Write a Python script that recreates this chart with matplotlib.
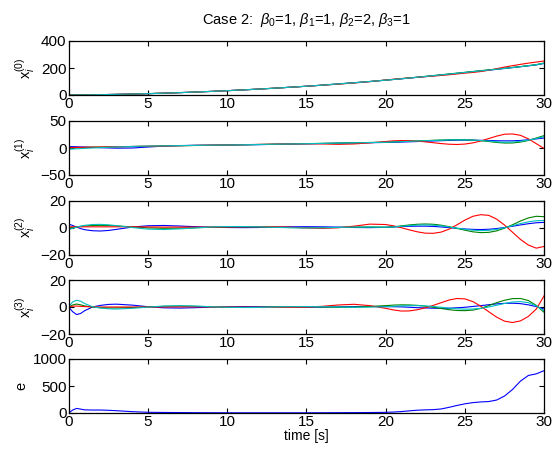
import matplotlib
matplotlib.use("Agg")
import matplotlib.pyplot as plt

plt.rcParams['font.family'] = ['Liberation Sans', 'DejaVu Sans']
plt.rcParams['font.size'] = 10
plt.rcParams['mathtext.fontset'] = 'custom'
plt.rcParams['mathtext.rm'] = 'Liberation Sans'
plt.rcParams['mathtext.it'] = 'Liberation Sans:italic'
plt.rcParams['mathtext.bf'] = 'Liberation Sans:bold'

# sample times [s]
T = [0, 0.25, 0.5, 0.75, 1, 1.5, 2, 2.5, 3,
     4, 5, 6, 7, 8, 9, 10, 11, 12, 13, 14, 15, 16, 17, 18, 19, 20,
     20.5, 21, 21.5, 22, 22.5, 23, 23.5, 24, 24.5, 25,
     25.5, 26, 26.5, 27, 27.5, 28, 28.5, 29, 29.5, 30]

# x_i^(0) for agents 1..4
X0_BLUE = [0.5, 0.8, 1.1, 1.4, 1.6, 2.2, 2.7, 3.6, 4.6,
           7.0, 9.8, 13.5, 17.5, 22, 26.7, 32, 37.7, 44, 50.6, 57.7, 65, 73, 82, 90.7, 100, 110,
           115, 120, 125.5, 131, 136.5, 142, 148, 154, 160, 166,
           172, 178, 184, 190, 196.5, 203, 209.5, 216, 223, 234]
X0_GREEN = [0, 0.1, 0.3, 0.5, 0.8, 1.5, 2.3, 3.4, 4.6,
            7.2, 10, 13.7, 17.6, 22, 26.7, 32, 37.7, 44, 50.6, 57.7, 65, 73, 82, 90.7, 100, 110.5,
            115.5, 121, 126.5, 132, 138, 144, 150, 156, 162, 168,
            174.5, 180.5, 186.5, 192, 198, 204, 210.5, 217.5, 225, 237]
X0_RED = [0.3, 0.5, 0.8, 1.0, 1.3, 1.9, 2.7, 3.7, 4.8,
          7.3, 10, 13.7, 17.6, 22, 26.7, 32, 37.7, 44, 50.6, 57.7, 65, 72.5, 80.5, 89, 99, 111,
          117, 122, 127, 131, 135.5, 140, 145, 150, 156, 162,
          167, 174, 183, 195, 207, 217, 227, 236, 244, 252]
X0_CYAN = [-0.2, 0, 0.2, 0.5, 0.8, 1.6, 2.5, 3.5, 4.6,
           7.2, 10, 13.7, 17.6, 22, 26.7, 32, 37.7, 44, 50.6, 57.7, 65, 73, 82, 90.7, 100, 110,
           115, 120.5, 126, 131.5, 137, 143, 149, 155, 161, 167,
           173, 179, 185, 191, 197.5, 203.5, 210, 217, 224.5, 236]

# x_i^(1)
X1_BLUE = [2.5, 2.5, 2.3, 2.0, 1.8, 1.2, 0.6, 0.1, -0.3,
           0, 1.8, 3.5, 4.5, 5, 5.2, 5.5, 5.8, 6.2, 6.8, 7.3, 7.8, 8.3, 8.8, 9.3, 9.8, 10.3,
           10.6, 11, 11.5, 12, 12.5, 13, 13.6, 14, 14.4, 14.6,
           14.5, 14.2, 13.8, 13.4, 13.2, 13.3, 14, 15.2, 16.8, 18.5]
X1_GREEN = [0, 0.2, 0.5, 0.8, 1, 1.5, 1.8, 2, 2.3,
            2.8, 3.3, 3.8, 4.2, 4.7, 5.1, 5.5, 6, 6.5, 7, 7.5, 8, 8.6, 9.1, 9.7, 10.2, 10.8,
            11.4, 12, 12.6, 13.2, 13.7, 14.2, 14.7, 15.2, 15.5, 15.3,
            14.6, 13.5, 12, 10.3, 9.2, 9.3, 11, 14, 18.5, 23]
X1_RED = [1, 1, 1.1, 1.2, 1.3, 1.5, 1.8, 2, 2.3,
          2.8, 3.3, 3.8, 4.3, 4.8, 5.3, 5.7, 6.2, 6.7, 7.2, 7.6, 7.8, 7.5, 6.8, 7.5, 9.5, 12,
          13.3, 13.8, 13.6, 12.8, 11.4, 9.8, 8.2, 7, 6.5, 7.3,
          9.5, 13, 17.5, 22, 25.5, 26, 23.5, 17, 8, -1]
X1_CYAN = [-2, -1.8, -1.5, -1.1, -0.7, 0, 0.7, 1.3, 1.9,
           2.8, 3.5, 4, 4.4, 4.8, 5.2, 5.6, 6, 6.5, 7, 7.5, 8, 8.5, 9, 9.6, 10.1, 10.6,
           11.2, 11.8, 12.4, 13, 13.5, 14, 14.5, 15, 15.2, 15,
           14.6, 13.8, 12.8, 11.5, 10.6, 11, 12.5, 14.5, 17.5, 21]

# x_i^(2)
X2_BLUE = [2.5, 1.5, 0.3, -0.8, -1.6, -2.4, -2.6, -2.2, -1.4,
           0.3, 1.3, 1.5, 1.1, 0.6, 0.2, 0, -0.1, 0, 0.3, 0.5, 0.6, 0.5, 0.3, 0, -0.1, 0.1,
           0.4, 0.7, 0.9, 1, 1, 0.8, 0.4, -0.1, -0.6, -1.1,
           -1.4, -1.5, -1.3, -0.8, 0, 0.9, 1.9, 2.8, 3.5, 3.8]
X2_GREEN = [-0.5, 0, 0.4, 0.8, 1.1, 1.5, 1.6, 1.5, 1.2,
            0.4, -0.3, -0.6, -0.5, -0.2, 0.2, 0.4, 0.5, 0.4, 0.2, 0, -0.2, -0.2, 0, 0.3, 0.4, 0.2,
            0.5, 1.2, 1.9, 2.4, 2.6, 2.4, 1.7, 0.6, -0.7, -2,
            -3.2, -3.8, -3.6, -2.5, -0.5, 2, 4.8, 7.1, 8.3, 8]
X2_RED = [0.5, 0.5, 0.5, 0.5, 0.5, 0.5, 0.5, 0.5, 0.5,
          0.5, 0.4, 0.3, 0.3, 0.3, 0.3, 0.4, 0.5, 0.6, 0.5, 0.2, -0.3, -0.6, -0.2, 1, 2.5, 2.2,
          1.2, -0.2, -1.8, -3.2, -4.2, -4.3, -3.4, -1.2, 2, 5.5,
          8.3, 9.5, 9, 6.2, 1.8, -3.5, -8.8, -13, -15.3, -14]
X2_CYAN = [-1.5, -0.6, 0.3, 1, 1.6, 2.2, 2.3, 2, 1.4,
           0, -1.2, -1.5, -1, -0.3, 0.4, 0.7, 0.7, 0.5, 0.1, -0.2, -0.3, -0.2, 0.1, 0.3, 0.3, 0.2,
           0.4, 0.9, 1.4, 1.8, 1.9, 1.7, 1.2, 0.4, -0.5, -1.4,
           -2, -2.3, -2.1, -1.4, -0.2, 1.3, 2.9, 4.2, 5, 5.2]

# x_i^(3)
X3_BLUE = [0, -3.5, -5.6, -4.8, -2.8, 0, 1.2, 1.9, 2.1,
           1.4, 0.2, -0.6, -0.8, -0.5, -0.1, 0.2, 0.3, 0.2, 0, -0.2, -0.2, -0.1, 0.1, 0.3, 0.4, 0.3,
           0.2, 0.1, -0.2, -0.5, -0.7, -0.9, -1, -0.9, -0.6, -0.2,
           0.4, 1, 1.7, 2.3, 2.7, 2.8, 2.5, 1.6, 0.3, -1.5]
X3_GREEN = [0, 1.5, 2.2, 1.6, 0.8, -0.1, -0.5, -0.7, -0.7,
            -0.4, 0, 0.5, 0.7, 0.5, 0.1, -0.2, -0.3, -0.2, 0, 0.2, 0.2, 0, -0.2, -0.1, 0.4, 1,
            1.4, 1.6, 1.5, 1.2, 0.6, -0.2, -1.1, -2, -2.6, -2.7,
            -2.3, -1, 1, 3.2, 5, 6.2, 6.3, 4.8, 1.2, -4]
X3_RED = [0.5, 0.6, 0.7, 0.5, 0.3, 0.1, 0, 0, 0,
          0, 0, 0, 0.1, 0.1, 0.1, 0, -0.1, -0.2, -0.3, -0.3, -0.1, 0.5, 1.5, 2, 1, -1,
          -2.2, -3, -2.9, -2, -0.6, 1.2, 3.2, 5.2, 6.3, 6,
          4, 0.6, -3.5, -7.5, -10.5, -11.5, -10.3, -7, -1.5, 8.4]
X3_CYAN = [0, 3.8, 5, 4.3, 2.6, 0.2, -0.8, -1.3, -1.5,
           -1, -0.1, 0.7, 1, 0.7, 0.2, -0.2, -0.4, -0.3, 0, 0.2, 0.3, 0.2, 0, -0.2, -0.1, 0.2,
           0.5, 0.8, 1, 1, 0.8, 0.4, -0.2, -0.8, -1.3, -1.6,
           -1.5, -1, 0, 1.3, 2.6, 3.7, 4, 3.2, 0.8, -2.8]

# error norm e
E = [0, 55, 85, 72, 58, 55, 55, 50, 43,
     25, 13, 10, 8, 6, 5, 4, 4, 4, 4, 4, 4, 5, 6, 7, 9, 12,
     18, 27, 40, 52, 58, 62, 75, 105, 140, 170,
     192, 205, 212, 240, 315, 435, 590, 695, 725, 785]

COLORS = ['#0000ff', '#008000', '#ff0000', '#00bfbf']

PANELS = [
    ([X0_BLUE, X0_GREEN, X0_RED, X0_CYAN], r'x$_{\mathit{i}}^{(0)}$', (0, 400), [0, 200, 400]),
    ([X1_BLUE, X1_GREEN, X1_RED, X1_CYAN], r'x$_{\mathit{i}}^{(1)}$', (-50, 50), [-50, 0, 50]),
    ([X2_BLUE, X2_GREEN, X2_RED, X2_CYAN], r'x$_{\mathit{i}}^{(2)}$', (-20, 20), [-20, 0, 20]),
    ([X3_BLUE, X3_GREEN, X3_RED, X3_CYAN], r'x$_{\mathit{i}}^{(3)}$', (-20, 20), [-20, 0, 20]),
    ([E], 'e', (0, 1000), [0, 500, 1000]),
]

# pixel rows of each subplot (top, bottom) in a 552x450 figure
ROWS = [(41, 95), (121, 175), (200.5, 254.5), (280, 334), (359, 413)]


def main():
    fig = plt.figure(figsize=(5.52, 4.5), dpi=100)
    left = 68.7 / 552
    width = 475.5 / 552
    axes = []
    for (series, label, ylim, yticks), (top, bot) in zip(PANELS, ROWS):
        ax = fig.add_axes([left, 1 - bot / 450, width, (bot - top) / 450])
        for k, ys in enumerate(series):
            ax.plot(T, ys, color=COLORS[k], lw=0.8)
        ax.set_xlim(0, 30)
        ax.set_ylim(*ylim)
        ax.set_xticks(range(0, 31, 5))
        ax.set_yticks(yticks)
        ax.set_ylabel(label, fontsize=10.5, labelpad=3)
        ax.tick_params(direction='in', top=True, right=True, length=3.5, width=0.8,
                       labelsize=11, pad=1.5)
        for sp in ax.spines.values():
            sp.set_linewidth(0.9)
        axes.append(ax)

    axes[0].set_title(r'Case 2:  $\beta_0$=1, $\beta_1$=1, $\beta_2$=2, $\beta_3$=1',
                      fontsize=10.5, pad=12)
    axes[-1].set_xlabel('time [s]', fontsize=10, labelpad=0)
    fig.savefig('out.png', dpi=100)


if __name__ == '__main__':
    main()
